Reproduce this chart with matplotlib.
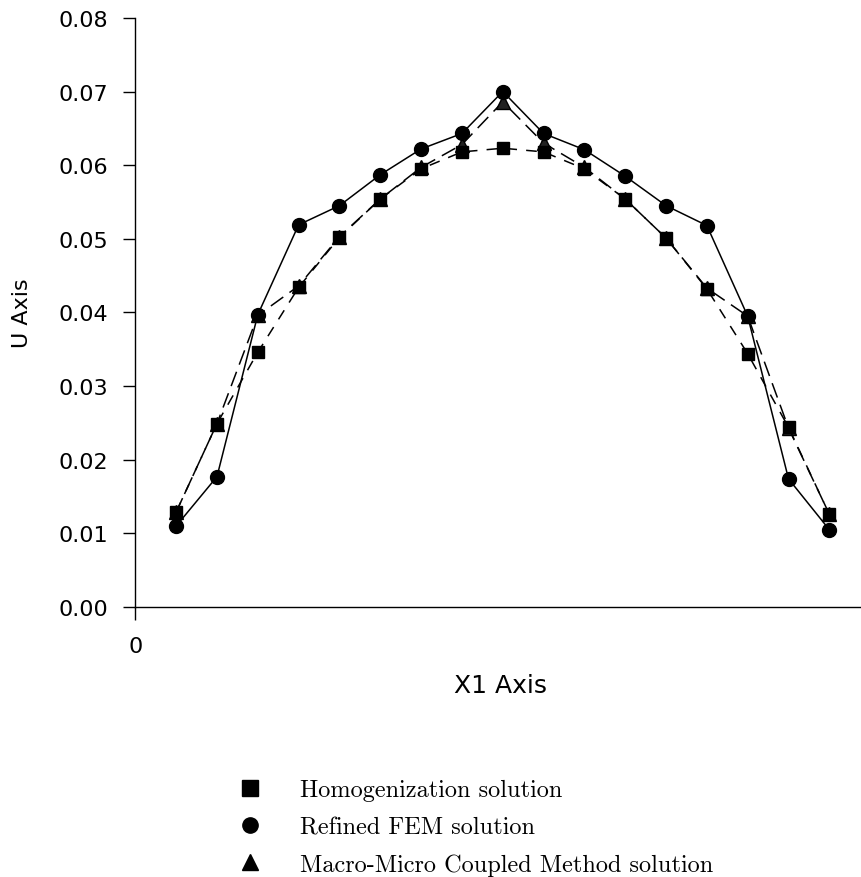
import matplotlib
matplotlib.use("Agg")
import matplotlib.pyplot as plt
from matplotlib.lines import Line2D
from matplotlib.ticker import FormatStrFormatter

# node positions along X1 and the displacement U
nodes = list(range(1, 18))
fem = [0.0110, 0.0177, 0.0397, 0.0519, 0.0545, 0.0587, 0.0622, 0.0643, 0.0700,
       0.0643, 0.0621, 0.0585, 0.0545, 0.0518, 0.0395, 0.0174, 0.0105]
homog = [0.0129, 0.0249, 0.0346, 0.0434, 0.0502, 0.0554, 0.0595, 0.0618, 0.0623,
         0.0618, 0.0595, 0.0554, 0.0501, 0.0432, 0.0344, 0.0244, 0.0126]
macro = [0.0129, 0.0249, 0.0396, 0.0436, 0.0503, 0.0554, 0.0597, 0.0628, 0.0686,
         0.0630, 0.0597, 0.0554, 0.0501, 0.0433, 0.0395, 0.0243, 0.0126]
yticks = [0.00, 0.01, 0.02, 0.03, 0.04, 0.05, 0.06, 0.07, 0.08]
legend_labels = ['Homogenization solution', 'Refined FEM solution',
                 'Macro-Micro Coupled Method solution']

sans = 'DejaVu Sans'

fig = plt.figure(figsize=(8.62, 8.78), dpi=100)
ax = fig.add_axes([0.157, 0.3075, 0.843, 0.671])

ax.plot(nodes, macro, color='black', lw=1.1, ls=(0, (10, 5)),
        marker='^', ms=10, mfc='#222222', mec='black')
ax.plot(nodes, homog, color='black', lw=1.1, ls=(0, (7, 6)),
        marker='s', ms=9, mfc='black', mec='black')
ax.plot(nodes, fem, color='black', lw=1.1, ls='-',
        marker='o', ms=10, mfc='black', mec='black')

ax.set_xlim(0, 17.8)
ax.set_ylim(0, 0.08)
ax.set_yticks(yticks)
ax.yaxis.set_major_formatter(FormatStrFormatter('%.2f'))
ax.set_xticks([0])
ax.set_xticklabels(['0'])
ax.tick_params(direction='out', length=9, width=1, labelsize=16)
ax.tick_params(axis='y', pad=10.5)
ax.tick_params(axis='x', pad=12)
for lab in ax.get_xticklabels() + ax.get_yticklabels():
    lab.set_fontfamily(sans)

for s in ['top', 'right']:
    ax.spines[s].set_visible(False)
ax.spines['left'].set_linewidth(1.0)
ax.spines['bottom'].set_linewidth(1.0)

ax.set_ylabel('U Axis', fontsize=16, family=sans)
ax.yaxis.set_label_coords(-0.142, 0.5)
ax.set_xlabel('X1 Axis', fontsize=18, family=sans)
ax.xaxis.set_label_coords(0.503, -0.112)

handles = [Line2D([], [], ls='none', marker='s', ms=12, color='black'),
           Line2D([], [], ls='none', marker='o', ms=11, color='black'),
           Line2D([], [], ls='none', marker='^', ms=12, color='black')]
fig.legend(handles, legend_labels, loc='upper left',
           bbox_to_anchor=(0.276, 0.1114), frameon=False,
           prop={'family': 'cmr10', 'size': 17.5}, handlelength=1.0,
           handletextpad=1.55, labelspacing=0.61, borderpad=0,
           borderaxespad=0)

fig.savefig('out.png', dpi=100)
